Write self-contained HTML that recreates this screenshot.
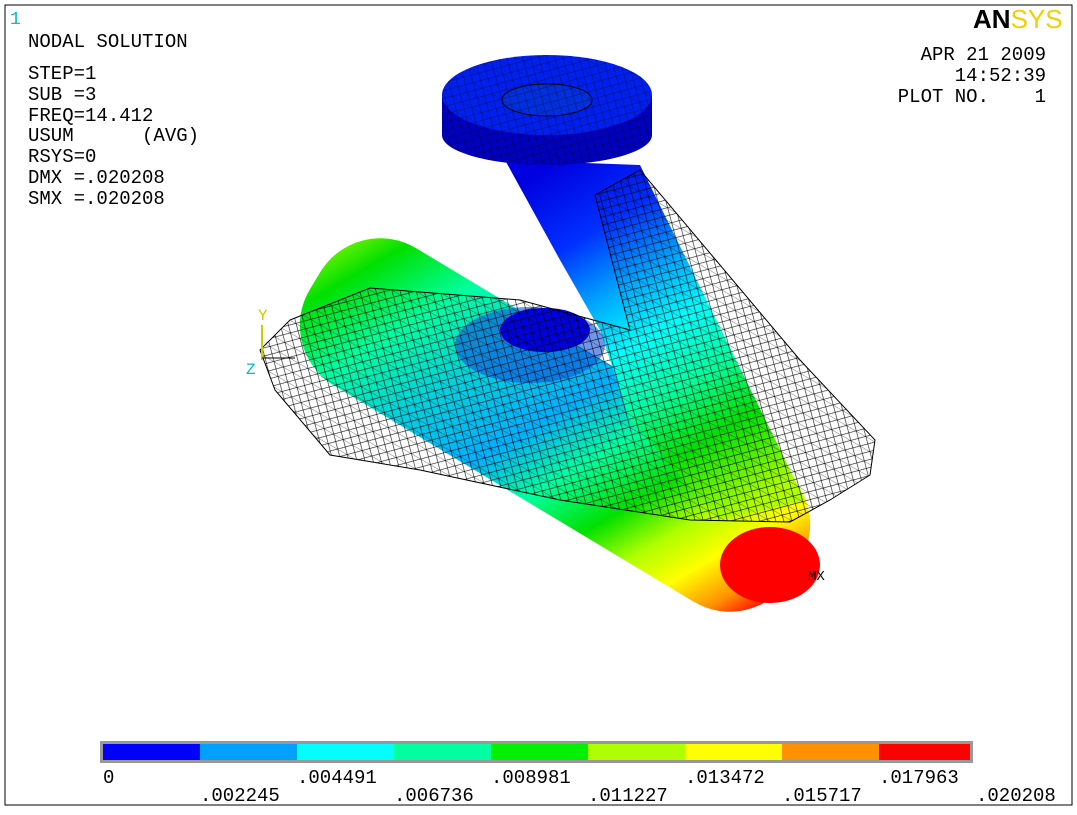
<!DOCTYPE html>
<html><head><style>
body{margin:0;background:#fff;}
.t{font-family:"Liberation Mono",monospace;font-size:19px;fill:#000;}
</style></head><body>
<svg width="1077" height="810" viewBox="0 0 1077 810" xmlns="http://www.w3.org/2000/svg">
<defs>
<linearGradient id="cyl" gradientUnits="userSpaceOnUse" x1="300" y1="290" x2="810" y2="570">
<stop offset="0" stop-color="#b0ff00"/><stop offset="0.1" stop-color="#00e000"/><stop offset="0.22" stop-color="#00ffa0"/>
<stop offset="0.35" stop-color="#00d0e0"/><stop offset="0.48" stop-color="#00b0ff"/><stop offset="0.58" stop-color="#00ffa0"/>
<stop offset="0.68" stop-color="#00e000"/><stop offset="0.76" stop-color="#b0ff00"/><stop offset="0.83" stop-color="#ffff00"/>
<stop offset="0.9" stop-color="#ff9000"/><stop offset="0.95" stop-color="#ff0000"/><stop offset="1" stop-color="#ff0000"/>
</linearGradient>
<linearGradient id="arm" gradientUnits="userSpaceOnUse" x1="560" y1="160" x2="760" y2="500">
<stop offset="0" stop-color="#0000e0"/><stop offset="0.2" stop-color="#0030ff"/><stop offset="0.35" stop-color="#00a0ff"/>
<stop offset="0.5" stop-color="#00ffff"/><stop offset="0.65" stop-color="#00ffa0"/><stop offset="0.8" stop-color="#00e000"/><stop offset="1" stop-color="#b0ff00"/>
</linearGradient>
<pattern id="mesh" width="11" height="11" patternUnits="userSpaceOnUse" patternTransform="rotate(30)">
<path d="M0 0H11M0 0L11 11M0 11L11 0" stroke="#000" stroke-width="0.6" fill="none"/>
</pattern>
<clipPath id="fl"><path d="M442,95 A105,40 0 0 1 652,95 L652,135 A105,30 0 0 1 442,135 Z"/></clipPath>
</defs>
<rect x="5" y="5" width="1067" height="800" fill="#fff" stroke="#000" stroke-width="1"/>
<!-- cylinder -->
<g transform="rotate(31 555 425)">
<rect x="275" y="345" width="560" height="160" rx="70" fill="url(#cyl)"/>
</g>
<!-- arm -->
<polygon points="505,160 640,165 805,500 720,520 630,420 600,330 560,260" fill="url(#arm)"/>
<ellipse cx="530" cy="345" rx="75" ry="38" fill="#1050e0" opacity="0.6"/>
<ellipse cx="545" cy="330" rx="45" ry="22" fill="#0000e0"/>
<ellipse cx="770" cy="565" rx="50" ry="38" fill="#ff0000"/>
<!-- flange -->
<rect x="442" y="95" width="210" height="40" fill="#0000c0"/>
<ellipse cx="547" cy="135" rx="105" ry="30" fill="#0000c0"/>
<ellipse cx="547" cy="95" rx="105" ry="40" fill="#0020f0"/>
<ellipse cx="547" cy="100" rx="45" ry="16" fill="#0030e0" stroke="#000" stroke-width="1"/>
<rect x="442" y="55" width="210" height="110" fill="url(#mesh)" opacity="0.5" clip-path="url(#fl)"/>
<!-- wireframe deformed -->
<path d="M290,320 L370,288 L520,300 L630,330 L595,195 L640,170 L800,360 L875,440 L870,475 L830,500 L790,522 L690,520 L560,500 L420,470 L330,455 L275,390 L260,350 Z" fill="url(#mesh)" stroke="#000" stroke-width="1"/>
<!-- labels -->
<text class="t" x="10" y="24" style="fill:#0bc;font-size:18px">1</text>
<text class="t" x="28" y="47">NODAL SOLUTION</text>
<text class="t" x="28" y="79">STEP=1</text>
<text class="t" x="28" y="100">SUB =3</text>
<text class="t" x="28" y="121">FREQ=14.412</text>
<text class="t" x="28" y="141" xml:space="preserve">USUM      (AVG)</text>
<text class="t" x="28" y="162">RSYS=0</text>
<text class="t" x="28" y="183">DMX =.020208</text>
<text class="t" x="28" y="204">SMX =.020208</text>
<text x="973" y="28" style="font-family:'Liberation Sans',sans-serif;font-weight:bold;font-size:26px;fill:#000">AN<tspan fill="#f0d000" font-weight="normal">SYS</tspan></text>
<text class="t" x="1046" y="60" text-anchor="end">APR 21 2009</text>
<text class="t" x="1046" y="81" text-anchor="end">14:52:39</text>
<text class="t" x="1046" y="102" text-anchor="end" xml:space="preserve">PLOT NO.    1</text>
<text class="t" x="808" y="580" style="font-size:14px">MX</text>
<text class="t" x="258" y="320" style="fill:#cc0;font-size:16px">Y</text>
<text class="t" x="246" y="374" style="fill:#0bc;font-size:16px">Z</text>
<line x1="262" y1="325" x2="262" y2="360" stroke="#cc0" stroke-width="2"/>
<line x1="262" y1="358" x2="295" y2="358" stroke="#000" stroke-width="1"/>
<!-- colorbar -->
<rect x="100" y="741" width="873" height="22" fill="#999"/>
<rect x="103" y="744" width="97" height="16" fill="#0000ff"/>
<rect x="200" y="744" width="97" height="16" fill="#00a0ff"/>
<rect x="297" y="744" width="97" height="16" fill="#00ffff"/>
<rect x="394" y="744" width="97" height="16" fill="#00ffa0"/>
<rect x="491" y="744" width="97" height="16" fill="#00f000"/>
<rect x="588" y="744" width="97" height="16" fill="#b0ff00"/>
<rect x="685" y="744" width="97" height="16" fill="#ffff00"/>
<rect x="782" y="744" width="97" height="16" fill="#ff9000"/>
<rect x="879" y="744" width="91" height="16" fill="#ff0000"/>
<text class="t" x="103" y="783">0</text>
<text class="t" x="200" y="801">.002245</text>
<text class="t" x="297" y="783">.004491</text>
<text class="t" x="394" y="801">.006736</text>
<text class="t" x="491" y="783">.008981</text>
<text class="t" x="588" y="801">.011227</text>
<text class="t" x="685" y="783">.013472</text>
<text class="t" x="782" y="801">.015717</text>
<text class="t" x="879" y="783">.017963</text>
<text class="t" x="976" y="801">.020208</text>
</svg>
</body></html>
